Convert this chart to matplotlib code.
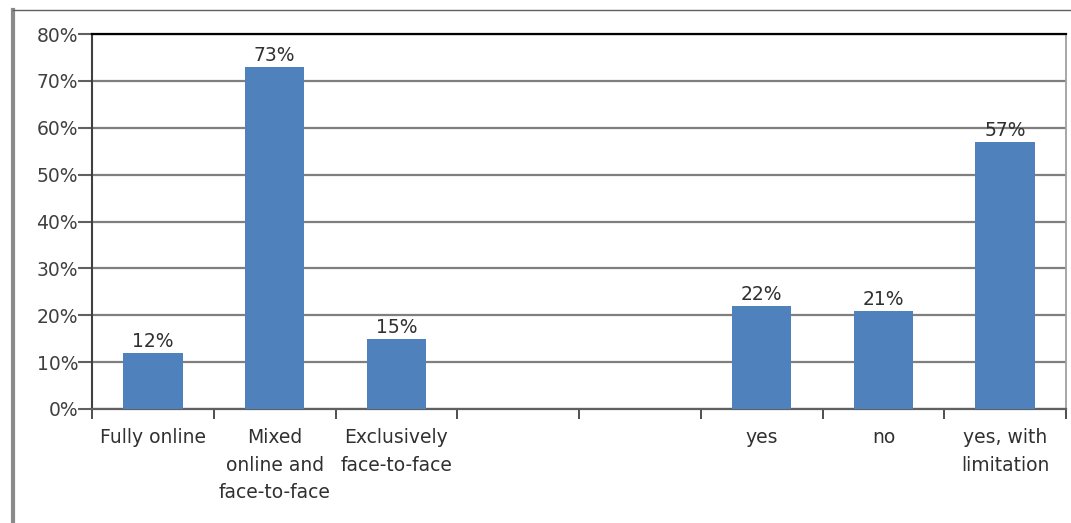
import numpy as np
import matplotlib.pyplot as plt
from matplotlib.lines import Line2D

plt.rcParams['font.family'] = ['DejaVu Sans']

# --- dati ---
categorie = ["Fully online", "Mixed\nonline and\nface-to-face", "Exclusively\nface-to-face",
             "", "", "yes", "no", "yes, with\nlimitation"]
valori = [12, 73, 15, None, None, 22, 21, 57]
y_ticks = [0, 10, 20, 30, 40, 50, 60, 70, 80]

colore_barre = '#4F81BD'
colore_testo = '#404040'
fs = 13.5

fig = plt.figure(figsize=(10.71, 5.23), dpi=100)
ax = fig.add_axes([92/1071, 1 - 409/523, (1066 - 92)/1071, (409 - 34)/523])

x = np.arange(len(categorie))
for xi, v in zip(x, valori):
    if v is None:
        continue
    ax.bar(xi + 0.5, v, width=0.49, color=colore_barre, zorder=3)
    ax.text(xi + 0.5, v + 0.3, f"{v}%", ha='center', va='bottom',
            fontsize=fs, color='#303030', zorder=4)

ax.set_xlim(0, len(categorie))
ax.set_ylim(0, 80)

# griglia orizzontale
ax.set_yticks(y_ticks)
ax.set_yticklabels([f"{t}%" for t in y_ticks], fontsize=fs, color=colore_testo)
ax.yaxis.grid(True, color='#7f7f7f', linewidth=1.6, zorder=0)
ax.tick_params(axis='y', length=10, width=1.5, color='#606060', pad=0)

# tacche ai bordi delle categorie, etichette al centro
ax.set_xticks(np.arange(len(categorie) + 1))
ax.set_xticklabels([])
ax.set_xticks(x + 0.5, minor=True)
ax.set_xticklabels(categorie, minor=True, fontsize=fs, color='#303030', linespacing=1.55)
ax.tick_params(axis='x', which='major', length=7, width=1.3, color='#404040', direction='out')
ax.tick_params(axis='x', which='minor', length=0, pad=14)

ax.spines['top'].set_color('black')
ax.spines['top'].set_linewidth(1.6)
ax.spines['right'].set_color('#a0a0a0')
ax.spines['right'].set_linewidth(1.3)
ax.spines['left'].set_color('#404040')
ax.spines['left'].set_linewidth(1.5)
ax.spines['bottom'].set_color('#606060')
ax.spines['bottom'].set_linewidth(1.6)

# cornice esterna del grafico
fig.add_artist(Line2D([13/1071, 13/1071], [0, 1 - 10/523], color='#8a8a8a', linewidth=3))
fig.add_artist(Line2D([13/1071, 1], [1 - 10/523, 1 - 10/523], color='#606060', linewidth=1))

fig.savefig('out.png', dpi=100)
